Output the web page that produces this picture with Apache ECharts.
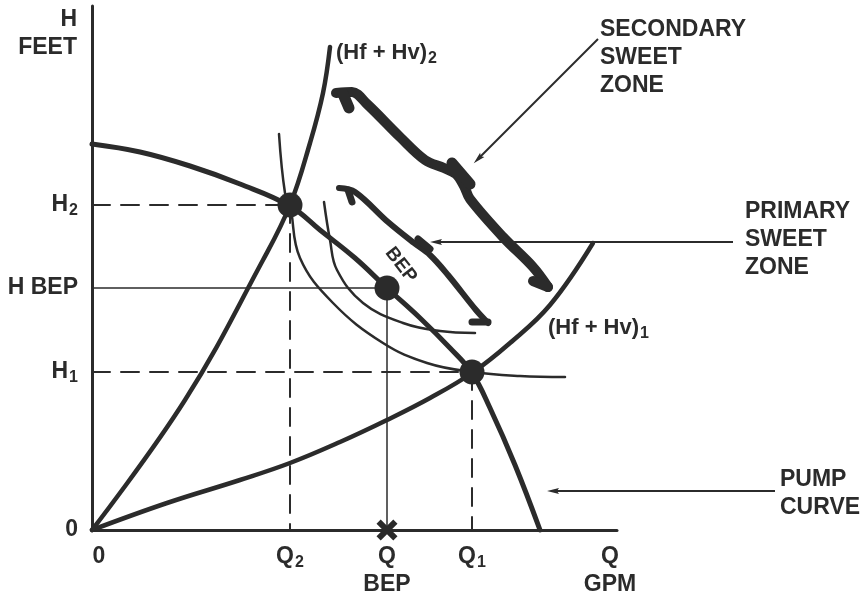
<!DOCTYPE html>
<html>
<head>
<meta charset="utf-8" />
<title>Pump curve sweet zones</title>
<script src="https://cdn.jsdelivr.net/npm/echarts@6/dist/echarts.min.js"></script>
<style>
	html, body { margin: 0; background: #fff; }
	#main { width: 865px; height: 599px; }
</style>
</head>
<body>
<div id="main"></div>
<script type="text/javascript">
	// Q (flow) and H (head) in drawing units, origin at the axis corner
	var pumpCurve = [[0, 386], [48, 378], [98, 364], [148, 346], [198, 324], [228, 300], [263, 272], [295, 242], [328, 212], [358, 182], [380, 157], [398, 122], [423, 65], [448, 0]];
	var system2 = [[0, 0], [93, 130], [171, 270], [198, 325], [218, 387], [231, 437], [238, 483]];
	var system1 = [[0, 0], [75, 27], [148, 50], [198, 67], [248, 88], [295, 110], [338, 132], [380, 157], [418, 187], [458, 225], [501, 287]];
	var outerArc = [[187, 396], [193, 337], [198, 325], [208, 272], [241, 227], [291, 187], [335, 167], [380, 158], [428, 154], [473, 153]];
	var innerArc = [[232, 328], [238, 290], [245, 260], [271, 227], [311, 207], [348, 199], [383, 197]];

	// operating points: H2/Q2, BEP, H1/Q1
	var points = [[198, 325], [295, 242], [380, 158]];

	// sweet zone brackets
	var secMain = [[244, 437], [260, 438], [275, 426], [308, 393], [333, 370], [352, 362], [364, 356], [372, 344], [378, 331], [411, 293], [441, 263], [456, 243]];
	var secTabTop = [[251, 436], [257, 422]];
	var secBump = [[360, 367], [378, 346]];
	var secTabBot = [[456, 243], [441, 249]];
	var priMain = [[247, 342], [263, 338], [296, 308], [322, 287], [338, 275], [356, 255], [384, 220], [396, 207]];
	var priTabTop = [[256, 340], [260, 328]];
	var priBump = [[326, 291], [338, 281]];
	var priTabBot = [[396, 208], [380, 208]];

	var arrows = [
		[[506, 491], [386, 371]],
		[[641, 288], [344, 288]],
		[[683, 39], [461, 39]]
	];

	var xTicks = [0, 198, 295, 380, 518];
	var xTickText = ['{z|0}', '{b|Q}{s|2}', '{b|Q}\n{b|BEP}', '{b|Q}{s|1}', '{b|Q}\n{b|GPM}'];
	var yTicks = [0, 158, 242, 325];
	var yTickText = ['{b|0}', '{b|H}{s|1}', '{b|H BEP}', '{b|H}{s|2}'];

	var notes = [
		['{b|SECONDARY}\n{b|SWEET}\n{b|ZONE}', 508, 472, 'left', 0],
		['{b|PRIMARY}\n{b|SWEET}\n{b|ZONE}', 653, 290, 'left', 0],
		['{b|PUMP}\n{b|CURVE}', 688, 36, 'left', 0],
		['{h|(Hf + Hv)}{s|2}', 244, 477, 'left', 0],
		['{h|(Hf + Hv)}{s|1}', 456, 202, 'left', 0],
		['{b|H}\n{b|FEET}', -15, 496, 'right', 0],
		['{c|BEP}', 309, 265, 'center', -52]
	];

	var INK = '#2b2b2b';
	var FONT = "'Liberation Sans', Arial, Helvetica, sans-serif";
	var rich = {
		b: { fontFamily: FONT, fontSize: 23, fontWeight: 'bold', color: INK, lineHeight: 28 },
		h: { fontFamily: FONT, fontSize: 22, fontWeight: 'bold', color: INK, lineHeight: 28 },
		s: { fontFamily: FONT, fontSize: 16, fontWeight: 'bold', color: INK, lineHeight: 16, padding: [12, 0, 0, 1], verticalAlign: 'top' },
		z: { fontFamily: FONT, fontSize: 23, fontWeight: 'bold', color: INK, lineHeight: 28, padding: [0, 0, 0, 14] },
		c: { fontFamily: FONT, fontSize: 19, fontWeight: 'bold', color: INK, lineHeight: 20 }
	};

	function curve(pts, width, smooth, dash) {
		return {
			type: 'line', data: pts, symbol: 'none', smooth: smooth, clip: false, silent: true, z: 3,
			lineStyle: { color: INK, width: width, opacity: 1, type: dash || 'solid', cap: 'round', join: 'round' }
		};
	}

	var series = [
		curve([[0, 325], [198, 325]], 2, false, [18, 11]),
		curve([[198, 325], [198, 0]], 2, false, [18, 11]),
		curve([[0, 158], [380, 158]], 2, false, [18, 11]),
		curve([[380, 158], [380, 0]], 2, false, [18, 11]),
		curve([[0, 242], [295, 242]], 1.5, false),
		curve([[295, 242], [295, 0]], 1.5, false),
		curve(outerArc, 2.5, 0.4),
		curve(innerArc, 2.5, 0.4),
		curve(system1, 4.5, 0.4),
		curve(system2, 4.5, 0.4),
		curve(pumpCurve, 5, 0.4),
		curve(secMain, 10, 0.35),
		curve(secTabTop, 11, false),
		curve(secBump, 11, false),
		curve(secTabBot, 10, false),
		curve(priMain, 6, 0.35),
		curve(priTabTop, 7, false),
		curve(priBump, 7, false),
		curve(priTabBot, 7, false),
		{
			type: 'lines', coordinateSystem: 'cartesian2d', clip: false, silent: true, z: 3,
			data: arrows.map(function(a) { return { coords: a }; }),
			symbol: ['none', 'path://M0,0M12,12M6,0L9,12L6,10L3,12Z'],
			symbolSize: [1, 12],
			lineStyle: { color: INK, width: 2, opacity: 1 }
		},
		{
			type: 'scatter', data: points, symbolSize: 25, clip: false, silent: true, z: 5,
			itemStyle: { color: INK, opacity: 1 }
		},
		{
			type: 'scatter', data: [[295, 0]], clip: false, silent: true, z: 5,
			symbol: 'path://M0,2L2,0L5,3L8,0L10,2L7,5L10,8L8,10L5,7L2,10L0,8L3,5Z',
			symbolSize: 21, itemStyle: { color: INK, opacity: 1 }
		},
		{
			type: 'scatter', clip: false, silent: true, z: 6, symbolSize: 1,
			itemStyle: { color: 'rgba(0,0,0,0)', opacity: 1 },
			data: notes.map(function(n) {
				return {
					value: [n[1], n[2]],
					label: {
						show: true, formatter: n[0], position: 'inside', align: n[3], verticalAlign: 'middle',
						rotate: n[4], rich: rich, color: INK, opacity: 1, textBorderWidth: 0
					}
				};
			})
		}
	];

	var option = {
		animation: false,
		backgroundColor: '#fff',
		grid: { left: 92, right: 248, top: 6, bottom: 69 },
		xAxis: {
			type: 'value', min: 0, max: 525,
			axisLine: { show: true, onZero: false, lineStyle: { color: INK, width: 3 } },
			axisTick: { show: false },
			splitLine: { show: false },
			axisLabel: {
				customValues: xTicks, margin: 13, rich: rich,
				formatter: function(v) { return xTickText[xTicks.indexOf(v)]; }
			}
		},
		yAxis: {
			type: 'value', min: 0, max: 524,
			axisLine: { show: true, onZero: false, lineStyle: { color: INK, width: 3 } },
			axisTick: { show: false },
			splitLine: { show: false },
			axisLabel: {
				customValues: yTicks, margin: 14, rich: rich,
				formatter: function(v) { return yTickText[yTicks.indexOf(v)]; }
			}
		},
		series: series
	};

	var myChart = echarts.init(document.getElementById('main'));
	myChart.setOption(option);
</script>
</body>
</html>
